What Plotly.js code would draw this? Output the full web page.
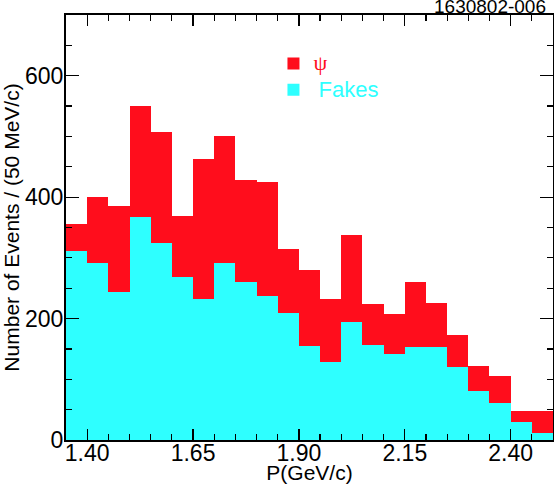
<!DOCTYPE html>
<html>
<head>
<meta charset="utf-8">
<script src="https://cdn.plot.ly/plotly-3.0.1.min.js"></script>
<style>
  body { margin: 0; padding: 0; background: #fff; }
  #chart { width: 554px; height: 484px; }
</style>
</head>
<body>
<div id="chart"></div>
<script>
// bin centres, 50 MeV/c bins from 1.35 to 2.50 GeV/c
var binCenters = [1.375, 1.425, 1.475, 1.525, 1.575, 1.625, 1.675, 1.725, 1.775, 1.825,
                  1.875, 1.925, 1.975, 2.025, 2.075, 2.125, 2.175, 2.225, 2.275, 2.325,
                  2.375, 2.425, 2.475];

// total (psi + fakes) per bin
var totalCounts = [355, 400, 385, 550, 507, 369, 463, 500, 428, 425,
                   314, 280, 232, 337, 224, 207, 260, 225, 173, 122,
                   106, 48, 48];

// fake contribution per bin
var fakeCounts = [311, 292, 244, 368, 325, 268, 232, 292, 261, 238,
                  209, 155, 128, 195, 157, 141, 153, 153, 121, 80,
                  61, 30, 11];

var xTickVals = [1.40, 1.65, 1.90, 2.15, 2.40];
var xTickText = ['1.40', '1.65', '1.90', '2.15', '2.40'];
var yTickVals = [0, 200, 400, 600];

var red = '#ff0d1c';
var cyan = '#2effff';

var psiTrace = {
  x: binCenters,
  y: totalCounts,
  type: 'bar',
  width: 0.05,
  name: '<span style="font-family:\'Liberation Serif\';font-size:22px">ψ</span>',
  marker: { color: red, line: { width: 0 } },
  hoverinfo: 'none'
};

var fakeTrace = {
  x: binCenters,
  y: fakeCounts,
  type: 'bar',
  width: 0.05,
  name: '&nbsp;<span style="font-size:22px">Fakes</span>',
  marker: { color: cyan, line: { width: 0 } },
  hoverinfo: 'none'
};

var layout = {
  width: 554,
  height: 484,
  margin: { l: 66, r: 1, t: 15, b: 44 },
  barmode: 'overlay',
  bargap: 0,
  paper_bgcolor: '#fff',
  plot_bgcolor: '#fff',
  font: { family: 'Liberation Sans, Arial, sans-serif', color: '#000', size: 20 },
  showlegend: true,
  legend: {
    x: 0.426, y: 0.929, xanchor: 'left', yanchor: 'top',
    bgcolor: 'rgba(0,0,0,0)',
    font: { size: 18, color: red },
    traceorder: 'normal',
    itemwidth: 30,
    tracegroupgap: 0
  },
  xaxis: {
    range: [1.35, 2.50],
    tickvals: xTickVals,
    ticktext: xTickText,
    ticks: 'inside',
    ticklen: 11,
    tickwidth: 1.2,
    tickcolor: '#000',
    minor: { dtick: 0.05, tick0: 1.35, ticks: 'inside', ticklen: 6, tickwidth: 1.2, tickcolor: '#000' },
    showline: true,
    linecolor: '#000',
    linewidth: 2,
    mirror: 'ticks',
    showgrid: false,
    zeroline: false,
    tickfont: { size: 23 },
    ticklabelstandoff: -9,
    title: { text: 'P(GeV/c)', font: { size: 21 }, standoff: 1 },
    automargin: false
  },
  yaxis: {
    range: [0, 700],
    tickvals: yTickVals,
    ticks: 'inside',
    ticklen: 13,
    tickwidth: 1.2,
    tickcolor: '#000',
    minor: { dtick: 50, tick0: 0, ticks: 'inside', ticklen: 6, tickwidth: 1.2, tickcolor: '#000' },
    showline: true,
    linecolor: '#000',
    linewidth: 2,
    mirror: 'ticks',
    showgrid: false,
    zeroline: false,
    tickfont: { size: 23 },
    ticklabelstandoff: -4,
    title: { text: 'Number of Events / (50 MeV/c)', font: { size: 21 }, standoff: 0 },
    automargin: false
  },
  annotations: [
    {
      text: '1630802-006',
      xref: 'paper', yref: 'paper',
      x: 1, y: 1.0,
      xanchor: 'right', yanchor: 'bottom',
      xshift: -5,
      yshift: -4,
      showarrow: false,
      font: { size: 19, color: '#000' }
    }
  ]
};

Plotly.newPlot('chart', [psiTrace, fakeTrace], layout, { displayModeBar: false, staticPlot: true });

// colour the Fakes legend entry cyan
var legendTexts = document.querySelectorAll('.legendtext');
if (legendTexts.length > 1) {
  legendTexts[1].style.fill = cyan;
}
</script>
</body>
</html>
